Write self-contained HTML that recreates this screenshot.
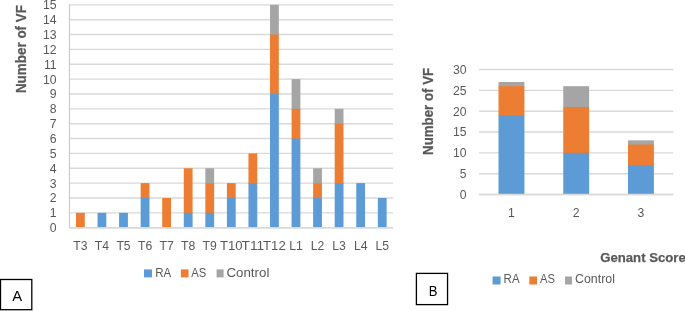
<!DOCTYPE html>
<html><head><meta charset="utf-8"><title>Figure</title>
<style>
html,body{margin:0;padding:0;background:#fff;}
body{width:685px;height:311px;overflow:hidden;position:relative;}
svg{position:absolute;left:0;top:0;display:block;}
text{font-family:"Liberation Sans",sans-serif;fill:#595959;}
.b{font-weight:bold;stroke:#595959;stroke-width:0.25px;}
</style></head><body>
<svg width="685" height="311" viewBox="0 0 685 311">
<rect x="0" y="0" width="685" height="311" fill="#ffffff"/>
<defs><filter id="sb" x="-5%" y="-5%" width="110%" height="110%"><feGaussianBlur stdDeviation="0.35"/></filter></defs>
<g filter="url(#sb)">
<g><line x1="69.60" y1="227.70" x2="393.00" y2="227.70" stroke="#d9d9d9" stroke-width="1.4"/><line x1="69.60" y1="212.84" x2="393.00" y2="212.84" stroke="#d9d9d9" stroke-width="1.4"/><line x1="69.60" y1="197.99" x2="393.00" y2="197.99" stroke="#d9d9d9" stroke-width="1.4"/><line x1="69.60" y1="183.13" x2="393.00" y2="183.13" stroke="#d9d9d9" stroke-width="1.4"/><line x1="69.60" y1="168.27" x2="393.00" y2="168.27" stroke="#d9d9d9" stroke-width="1.4"/><line x1="69.60" y1="153.42" x2="393.00" y2="153.42" stroke="#d9d9d9" stroke-width="1.4"/><line x1="69.60" y1="138.56" x2="393.00" y2="138.56" stroke="#d9d9d9" stroke-width="1.4"/><line x1="69.60" y1="123.70" x2="393.00" y2="123.70" stroke="#d9d9d9" stroke-width="1.4"/><line x1="69.60" y1="108.85" x2="393.00" y2="108.85" stroke="#d9d9d9" stroke-width="1.4"/><line x1="69.60" y1="93.99" x2="393.00" y2="93.99" stroke="#d9d9d9" stroke-width="1.4"/><line x1="69.60" y1="79.13" x2="393.00" y2="79.13" stroke="#d9d9d9" stroke-width="1.4"/><line x1="69.60" y1="64.28" x2="393.00" y2="64.28" stroke="#d9d9d9" stroke-width="1.4"/><line x1="69.60" y1="49.42" x2="393.00" y2="49.42" stroke="#d9d9d9" stroke-width="1.4"/><line x1="69.60" y1="34.56" x2="393.00" y2="34.56" stroke="#d9d9d9" stroke-width="1.4"/><line x1="69.60" y1="19.71" x2="393.00" y2="19.71" stroke="#d9d9d9" stroke-width="1.4"/><line x1="69.60" y1="4.85" x2="393.00" y2="4.85" stroke="#d9d9d9" stroke-width="1.4"/><line x1="69.45" y1="4.35" x2="69.45" y2="228.20" stroke="#bdbdbd" stroke-width="0.9"/></g>
<g><rect x="377.82" y="197.99" width="8.80" height="29.71" fill="#5b9bd5"/><rect x="356.26" y="183.13" width="8.80" height="44.57" fill="#5b9bd5"/><rect x="334.70" y="108.85" width="8.80" height="15.46" fill="#a5a5a5"/><rect x="334.70" y="123.70" width="8.80" height="60.03" fill="#ed7d31"/><rect x="334.70" y="183.13" width="8.80" height="44.57" fill="#5b9bd5"/><rect x="313.14" y="168.27" width="8.80" height="15.46" fill="#a5a5a5"/><rect x="313.14" y="183.13" width="8.80" height="15.46" fill="#ed7d31"/><rect x="313.14" y="197.99" width="8.80" height="29.71" fill="#5b9bd5"/><rect x="291.58" y="79.13" width="8.80" height="30.31" fill="#a5a5a5"/><rect x="291.58" y="108.85" width="8.80" height="30.31" fill="#ed7d31"/><rect x="291.58" y="138.56" width="8.80" height="89.14" fill="#5b9bd5"/><rect x="270.02" y="4.85" width="8.80" height="30.31" fill="#a5a5a5"/><rect x="270.02" y="34.56" width="8.80" height="60.03" fill="#ed7d31"/><rect x="270.02" y="93.99" width="8.80" height="133.71" fill="#5b9bd5"/><rect x="248.46" y="153.42" width="8.80" height="30.31" fill="#ed7d31"/><rect x="248.46" y="183.13" width="8.80" height="44.57" fill="#5b9bd5"/><rect x="226.90" y="183.13" width="8.80" height="15.46" fill="#ed7d31"/><rect x="226.90" y="197.99" width="8.80" height="29.71" fill="#5b9bd5"/><rect x="205.34" y="168.27" width="8.80" height="15.46" fill="#a5a5a5"/><rect x="205.34" y="183.13" width="8.80" height="30.31" fill="#ed7d31"/><rect x="205.34" y="212.84" width="8.80" height="14.86" fill="#5b9bd5"/><rect x="183.78" y="168.27" width="8.80" height="45.17" fill="#ed7d31"/><rect x="183.78" y="212.84" width="8.80" height="14.86" fill="#5b9bd5"/><rect x="162.22" y="197.99" width="8.80" height="29.71" fill="#ed7d31"/><rect x="140.66" y="183.13" width="8.80" height="15.46" fill="#ed7d31"/><rect x="140.66" y="197.99" width="8.80" height="29.71" fill="#5b9bd5"/><rect x="119.10" y="212.84" width="8.80" height="14.86" fill="#5b9bd5"/><rect x="97.54" y="212.84" width="8.80" height="14.86" fill="#5b9bd5"/><rect x="75.98" y="212.84" width="8.80" height="14.86" fill="#ed7d31"/></g>
<line x1="69.60" y1="227.70" x2="393.00" y2="227.70" stroke="#d9d9d9" stroke-width="1.4"/>
<g><text x="56.6" y="232.10" font-size="12.2" text-anchor="end">0</text><text x="56.6" y="217.24" font-size="12.2" text-anchor="end">1</text><text x="56.6" y="202.39" font-size="12.2" text-anchor="end">2</text><text x="56.6" y="187.53" font-size="12.2" text-anchor="end">3</text><text x="56.6" y="172.67" font-size="12.2" text-anchor="end">4</text><text x="56.6" y="157.82" font-size="12.2" text-anchor="end">5</text><text x="56.6" y="142.96" font-size="12.2" text-anchor="end">6</text><text x="56.6" y="128.10" font-size="12.2" text-anchor="end">7</text><text x="56.6" y="113.25" font-size="12.2" text-anchor="end">8</text><text x="56.6" y="98.39" font-size="12.2" text-anchor="end">9</text><text x="56.6" y="83.53" font-size="12.2" text-anchor="end">10</text><text x="56.6" y="68.68" font-size="12.2" text-anchor="end">11</text><text x="56.6" y="53.82" font-size="12.2" text-anchor="end">12</text><text x="56.6" y="38.96" font-size="12.2" text-anchor="end">13</text><text x="56.6" y="24.11" font-size="12.2" text-anchor="end">14</text><text x="56.6" y="9.25" font-size="12.2" text-anchor="end">15</text><text x="80.38" y="249.5" font-size="12.2" text-anchor="middle">T3</text><text x="101.94" y="249.5" font-size="12.2" text-anchor="middle">T4</text><text x="123.50" y="249.5" font-size="12.2" text-anchor="middle">T5</text><text x="145.06" y="249.5" font-size="12.2" text-anchor="middle">T6</text><text x="166.62" y="249.5" font-size="12.2" text-anchor="middle">T7</text><text x="188.18" y="249.5" font-size="12.2" text-anchor="middle">T8</text><text x="209.74" y="249.5" font-size="12.2" text-anchor="middle">T9</text><text x="231.30" y="249.5" font-size="12.2" text-anchor="middle" textLength="22.6" lengthAdjust="spacingAndGlyphs">T10</text><text x="252.86" y="249.5" font-size="12.2" text-anchor="middle" textLength="22.6" lengthAdjust="spacingAndGlyphs">T11</text><text x="274.42" y="249.5" font-size="12.2" text-anchor="middle" textLength="22.6" lengthAdjust="spacingAndGlyphs">T12</text><text x="295.98" y="249.5" font-size="12.2" text-anchor="middle">L1</text><text x="317.54" y="249.5" font-size="12.2" text-anchor="middle">L2</text><text x="339.10" y="249.5" font-size="12.2" text-anchor="middle">L3</text><text x="360.66" y="249.5" font-size="12.2" text-anchor="middle">L4</text><text x="382.22" y="249.5" font-size="12.2" text-anchor="middle">L5</text></g>
<text class="b" font-size="14.2" transform="translate(26.2,93.1) rotate(-90)" textLength="88.1" lengthAdjust="spacingAndGlyphs">Number of VF</text>
<rect x="144" y="269.4" width="8" height="8" fill="#5b9bd5"/><rect x="180.9" y="269.4" width="7.6" height="8" fill="#ed7d31"/><rect x="216.6" y="269.4" width="7" height="8" fill="#a5a5a5"/>
<text x="155.2" y="276.5" font-size="12.6" textLength="16" lengthAdjust="spacingAndGlyphs">RA</text><text x="191.2" y="276.5" font-size="12.6" textLength="15" lengthAdjust="spacingAndGlyphs">AS</text><text x="226.4" y="276.5" font-size="12.6" textLength="43" lengthAdjust="spacingAndGlyphs">Control</text>
<rect x="0.5" y="279.5" width="31.3" height="30.2" fill="#fff" stroke="#000" stroke-width="1.3"/><text x="17.1" y="301.4" font-size="14.8" text-anchor="middle" style="fill:#000">A</text>
<g><line x1="479.10" y1="194.55" x2="673.30" y2="194.55" stroke="#d9d9d9" stroke-width="1.4"/><line x1="479.10" y1="173.71" x2="673.30" y2="173.71" stroke="#d9d9d9" stroke-width="1.4"/><line x1="479.10" y1="152.87" x2="673.30" y2="152.87" stroke="#d9d9d9" stroke-width="1.4"/><line x1="479.10" y1="132.03" x2="673.30" y2="132.03" stroke="#d9d9d9" stroke-width="1.4"/><line x1="479.10" y1="111.18" x2="673.30" y2="111.18" stroke="#d9d9d9" stroke-width="1.4"/><line x1="479.10" y1="90.34" x2="673.30" y2="90.34" stroke="#d9d9d9" stroke-width="1.4"/><line x1="479.10" y1="69.50" x2="673.30" y2="69.50" stroke="#d9d9d9" stroke-width="1.4"/></g>
<g><rect x="627.98" y="140.36" width="25.90" height="4.77" fill="#a5a5a5"/><rect x="627.98" y="144.53" width="25.90" height="21.44" fill="#ed7d31"/><rect x="627.98" y="165.37" width="25.90" height="29.18" fill="#5b9bd5"/><rect x="563.25" y="86.17" width="25.90" height="21.44" fill="#a5a5a5"/><rect x="563.25" y="107.02" width="25.90" height="46.45" fill="#ed7d31"/><rect x="563.25" y="152.87" width="25.90" height="41.68" fill="#5b9bd5"/><rect x="498.52" y="82.00" width="25.90" height="4.77" fill="#a5a5a5"/><rect x="498.52" y="86.17" width="25.90" height="29.78" fill="#ed7d31"/><rect x="498.52" y="115.35" width="25.90" height="79.20" fill="#5b9bd5"/></g>
<line x1="479.10" y1="194.55" x2="673.30" y2="194.55" stroke="#d9d9d9" stroke-width="1.4"/>
<g><text x="466.6" y="198.95" font-size="12.2" text-anchor="end">0</text><text x="466.6" y="178.11" font-size="12.2" text-anchor="end">5</text><text x="466.6" y="157.27" font-size="12.2" text-anchor="end">10</text><text x="466.6" y="136.43" font-size="12.2" text-anchor="end">15</text><text x="466.6" y="115.58" font-size="12.2" text-anchor="end">20</text><text x="466.6" y="94.74" font-size="12.2" text-anchor="end">25</text><text x="466.6" y="73.90" font-size="12.2" text-anchor="end">30</text><text x="511.47" y="216.9" font-size="12.2" text-anchor="middle">1</text><text x="576.20" y="216.9" font-size="12.2" text-anchor="middle">2</text><text x="640.93" y="216.9" font-size="12.2" text-anchor="middle">3</text></g>
<text class="b" font-size="14.2" transform="translate(433.0,154.9) rotate(-90)" textLength="87.0" lengthAdjust="spacingAndGlyphs">Number of VF</text>
<text class="b" x="600.2" y="262.0" font-size="13.6" textLength="85.6" lengthAdjust="spacingAndGlyphs">Genant Score</text>
<rect x="492.6" y="276.5" width="8" height="8" fill="#5b9bd5"/><rect x="529.3" y="276.5" width="7.7" height="8" fill="#ed7d31"/><rect x="565" y="276.5" width="7" height="8" fill="#a5a5a5"/>
<text x="503.6" y="283.2" font-size="12.6" textLength="16" lengthAdjust="spacingAndGlyphs">RA</text><text x="539.9" y="283.2" font-size="12.6" textLength="15" lengthAdjust="spacingAndGlyphs">AS</text><text x="575.0" y="283.2" font-size="12.6" textLength="40" lengthAdjust="spacingAndGlyphs">Control</text>
<rect x="416.4" y="273.4" width="31.15" height="31.2" fill="#fff" stroke="#000" stroke-width="1.3"/><text x="433.0" y="295.7" font-size="14.8" text-anchor="middle" textLength="8.7" lengthAdjust="spacingAndGlyphs" style="fill:#000">B</text>
</g>
</svg>
</body></html>
